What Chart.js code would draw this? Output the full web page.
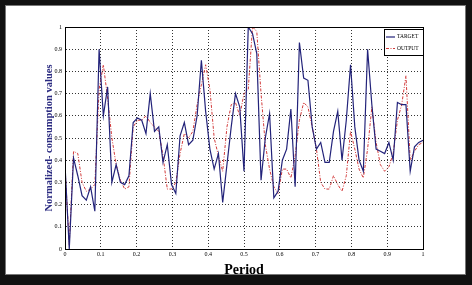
<!DOCTYPE html>
<html>
<head>
<meta charset="utf-8">
<script src="https://cdn.jsdelivr.net/npm/chart.js@4"></script>
<style>
html, body { margin: 0; padding: 0; background: #fff; }
</style>
</head>
<body>
<canvas id="chart" width="472" height="285"></canvas>
<script>
// normalized consumption, one value per period step (period runs 0..1)
const target = [
    0.38, 0.00, 0.41, 0.33, 0.24, 0.22, 0.28, 0.17, 0.90, 0.60,
    0.73, 0.30, 0.38, 0.30, 0.29, 0.33, 0.57, 0.59, 0.58, 0.52,
    0.70, 0.53, 0.55, 0.39, 0.47, 0.29, 0.25, 0.51, 0.57, 0.47,
    0.49, 0.60, 0.85, 0.62, 0.45, 0.36, 0.43, 0.21, 0.38, 0.55,
    0.70, 0.64, 0.35, 1.00, 0.97, 0.88, 0.31, 0.50, 0.61, 0.23,
    0.26, 0.40, 0.45, 0.63, 0.28, 0.93, 0.77, 0.76, 0.55, 0.45,
    0.48, 0.39, 0.39, 0.53, 0.62, 0.40, 0.58, 0.83, 0.55, 0.40,
    0.35, 0.90, 0.65, 0.45, 0.44, 0.43, 0.48, 0.40, 0.66, 0.65,
    0.65, 0.35, 0.46, 0.48, 0.49
];
const output = [
    0.37, 0.02, 0.44, 0.43, 0.30, 0.26, 0.27, 0.29, 0.72, 0.83,
    0.68, 0.50, 0.38, 0.31, 0.27, 0.28, 0.55, 0.58, 0.58, 0.60,
    0.57, 0.55, 0.53, 0.42, 0.27, 0.27, 0.30, 0.43, 0.52, 0.50,
    0.53, 0.65, 0.74, 0.83, 0.72, 0.50, 0.42, 0.35, 0.55, 0.65,
    0.66, 0.60, 0.70, 0.72, 1.00, 0.98, 0.70, 0.47, 0.36, 0.28,
    0.25, 0.36, 0.36, 0.32, 0.42, 0.58, 0.66, 0.64, 0.55, 0.45,
    0.30, 0.27, 0.27, 0.33, 0.29, 0.26, 0.33, 0.53, 0.45, 0.36,
    0.32, 0.45, 0.64, 0.48, 0.38, 0.35, 0.37, 0.43, 0.58, 0.65,
    0.78, 0.40, 0.44, 0.47, 0.48
];
const seriesNames = ['TARGET', 'OUTPUT'];
const xLabel = 'Period';
const yLabel = 'Normalized- consumption values';

const toPoints = (values) => values.map((v, i) => ({ x: i / (values.length - 1), y: v }));

const serif = '"Liberation Serif", "Times New Roman", serif';

// matlab prints 0 and 1, not 0.0 / 1.0
const tickText = (v) => String(Math.round(v * 10) / 10);

// black picture frame + matlab style axes box + legend inside the plot
const framePlugin = {
    id: 'frame',
    afterDraw(chart) {
        const ctx = chart.ctx;
        const a = chart.chartArea;
        ctx.save();

        // axes box
        ctx.strokeStyle = '#000';
        ctx.lineWidth = 1;
        ctx.strokeRect(a.left + 0.5, a.top + 0.5, a.right - a.left, a.bottom - a.top);

        // legend
        const lx = 384, ly = 29, lw = 39, lh = 26;
        ctx.fillStyle = '#fff';
        ctx.fillRect(lx, ly, lw, lh);
        ctx.strokeRect(lx + 0.5, ly + 0.5, lw, lh);
        ctx.font = '5.5px ' + serif;
        ctx.textBaseline = 'middle';
        chart.data.datasets.forEach((ds, i) => {
            const yy = ly + 8 + i * 11.5;
            ctx.strokeStyle = ds.borderColor;
            ctx.lineWidth = ds.borderWidth;
            ctx.setLineDash(ds.borderDash || []);
            ctx.beginPath();
            ctx.moveTo(lx + 2, yy);
            ctx.lineTo(lx + 11, yy);
            ctx.stroke();
            ctx.setLineDash([]);
            ctx.fillStyle = '#000';
            ctx.fillText(ds.label, lx + 13, yy);
        });

        // outer frame
        ctx.fillStyle = '#111';
        ctx.fillRect(0, 0, 472, 5);
        ctx.fillRect(0, 0, 5, 285);
        ctx.fillRect(466, 0, 6, 285);
        ctx.fillRect(0, 275, 472, 10);
        ctx.fillStyle = '#777';
        ctx.fillRect(5, 5, 461, 1);
        ctx.fillRect(5, 5, 1, 270);
        ctx.fillRect(465, 5, 1, 270);
        ctx.fillRect(5, 274, 461, 1);
        ctx.restore();
    }
};

new Chart(document.getElementById('chart'), {
    type: 'line',
    data: {
        datasets: [{
            label: seriesNames[0],
            data: toPoints(target),
            borderColor: '#23237a',
            borderWidth: 1.2,
            pointRadius: 0,
            tension: 0
        }, {
            label: seriesNames[1],
            data: toPoints(output),
            borderColor: '#d23a3a',
            borderWidth: 1,
            borderDash: [3, 1.5, 1, 1.5],
            pointRadius: 0,
            tension: 0
        }]
    },
    options: {
        responsive: false,
        animation: false,
        layout: { padding: { left: 0, right: 49, top: 27, bottom: 0 } },
        plugins: { legend: { display: false }, tooltip: { enabled: false } },
        scales: {
            x: {
                type: 'linear',
                min: 0,
                max: 1,
                afterFit: (s) => { s.height = 36; },
                ticks: { stepSize: 0.1, color: '#000', font: { size: 6, family: serif }, padding: 2, maxRotation: 0, callback: tickText },
                grid: { color: '#000', lineWidth: 0.8, drawTicks: false },
                border: { display: true, color: '#000', dash: [1, 2] },
                title: {
                    display: true,
                    text: xLabel,
                    color: '#000',
                    font: { size: 14, weight: 'bold', family: serif },
                    padding: { top: 0, bottom: 6 }
                }
            },
            y: {
                min: 0,
                max: 1,
                afterFit: (s) => { s.width = 65; },
                ticks: { stepSize: 0.1, color: '#000', font: { size: 6, family: serif }, padding: 3, callback: tickText },
                grid: { color: '#000', lineWidth: 0.8, drawTicks: false },
                border: { display: true, color: '#000', dash: [1, 2] },
                title: {
                    display: true,
                    text: yLabel,
                    color: '#2a2a80',
                    font: { size: 10.5, weight: 'bold', family: serif },
                    padding: { top: 43, bottom: 0 }
                }
            }
        }
    },
    plugins: [framePlugin]
});
</script>
</body>
</html>
